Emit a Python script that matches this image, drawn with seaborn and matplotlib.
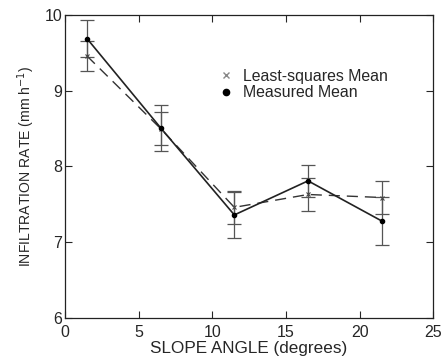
import seaborn as sns
import matplotlib.pyplot as plt
import pandas as pd

# slope angle classes (degrees)
slope = [1.5, 6.5, 11.5, 16.5, 21.5]

# measured means and their error
measured = [9.69, 8.51, 7.36, 7.81, 7.28]
measured_err = [0.25, 0.30, 0.30, 0.21, 0.32]

# least-squares means and their error
lsmean = [9.46, 8.50, 7.46, 7.63, 7.59]
lsmean_err = [0.20, 0.22, 0.22, 0.22, 0.22]

df = pd.DataFrame({'slope': slope, 'measured': measured, 'lsmean': lsmean})

sns.set_style('ticks')
plt.rcParams['font.family'] = ['Liberation Sans', 'DejaVu Sans']

fig = plt.figure(figsize=(4.44, 3.58), dpi=100)
ax = fig.add_axes([0.146, 0.112, 0.830, 0.846])

# error bars first, then lines on top
ax.errorbar(slope, lsmean, yerr=lsmean_err, fmt='none', ecolor='#555555',
            elinewidth=0.9, capsize=5, capthick=0.9)
ax.errorbar(slope, measured, yerr=measured_err, fmt='none', ecolor='#555555',
            elinewidth=0.9, capsize=5, capthick=0.9)

sns.lineplot(x='slope', y='lsmean', data=df, ax=ax, color='#333333', lw=1.0,
             dashes=False, linestyle=(0, (8, 5)))
sns.lineplot(x='slope', y='measured', data=df, ax=ax, color='#222222', lw=1.2)
ax.plot(slope, lsmean, ls='none', marker='x', ms=3, color='#444444', mew=0.8)
ax.plot(slope, measured, ls='none', marker='o', ms=3, color='black')

# legend: marker + text, no frame
ax.plot([], [], ls='none', marker='x', ms=4, color='#888888', label='Least-squares Mean')
ax.plot([], [], ls='none', marker='o', ms=4.5, color='black', label='Measured Mean')
handles, labels = ax.get_legend_handles_labels()
ax.legend(handles[-2:], labels[-2:], loc='upper left', bbox_to_anchor=(0.385, 0.86),
          frameon=False, fontsize=11.4, handletextpad=0.6, handlelength=1.0,
          labelspacing=0.1, borderpad=0.2)

ax.set_xlim(0, 25)
ax.set_ylim(6, 10)
ax.set_xticks([0, 5, 10, 15, 20, 25])
ax.set_yticks([6, 7, 8, 9, 10])
ax.tick_params(direction='in', top=True, right=True, labelsize=11.5, length=5,
               width=0.8, pad=2)
ax.tick_params(axis='x', pad=5)
for s in ax.spines.values():
    s.set_linewidth(0.9)
    s.set_color('#222222')

ax.set_xlabel('SLOPE ANGLE (degrees)', fontsize=12.3, labelpad=1)
ax.set_ylabel('INFILTRATION RATE (mm h$^{-1}$)', fontsize=10.1, labelpad=5)

fig.savefig('out.png', dpi=100)
